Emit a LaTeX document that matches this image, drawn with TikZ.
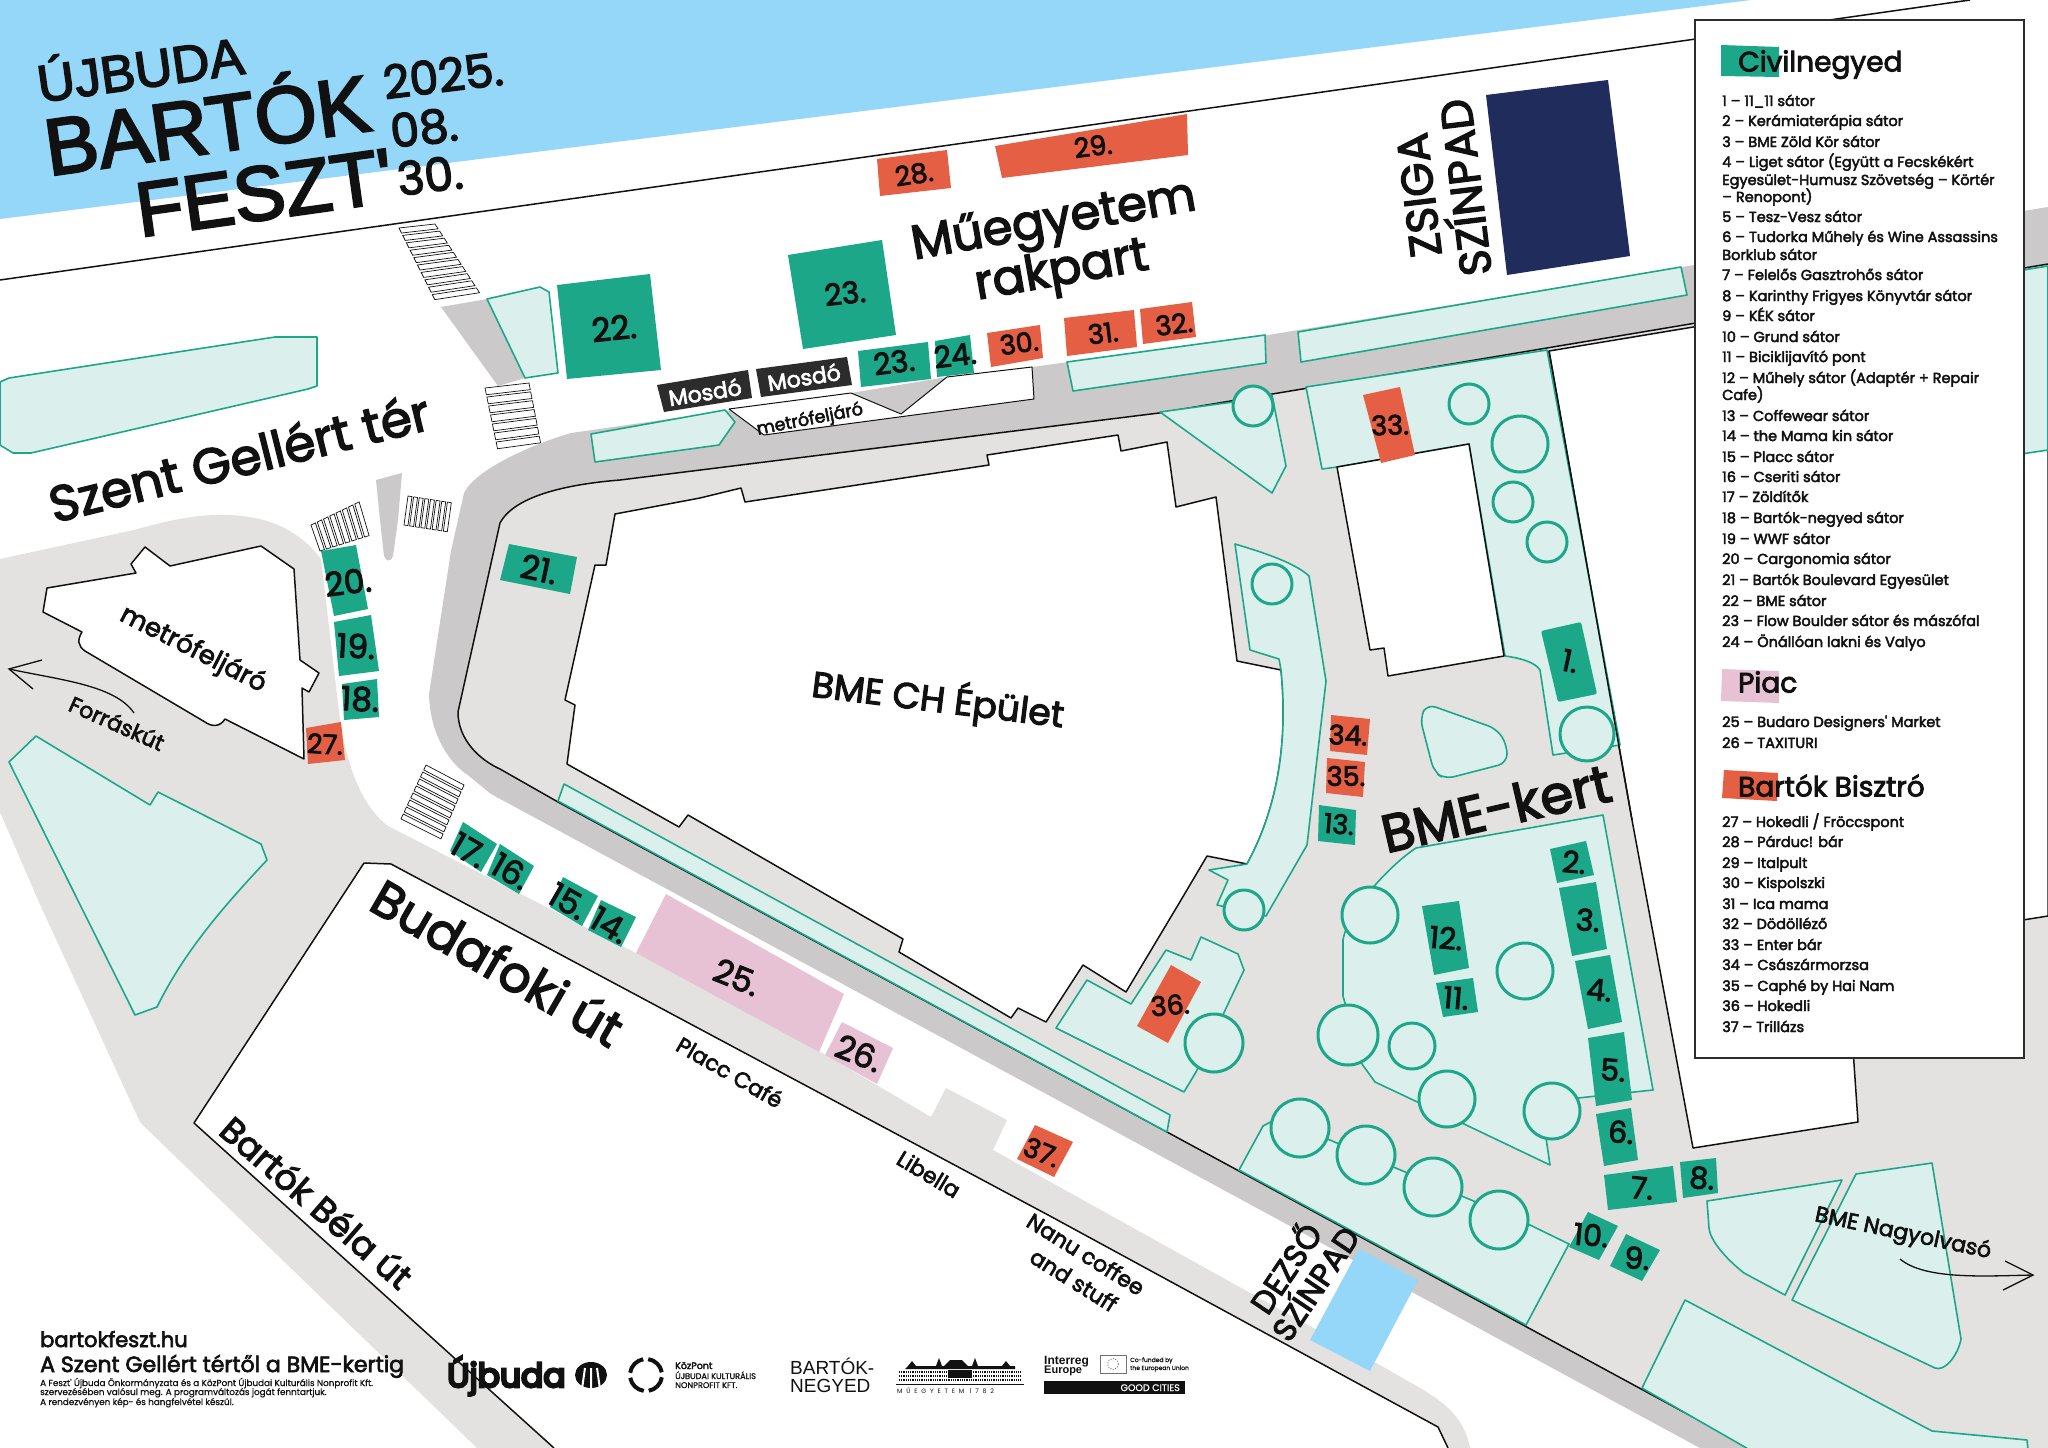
\documentclass[tikz,border=0pt]{standalone}
\usepackage{fontspec}
\usetikzlibrary{calc}
\setmainfont{Poppins}
\newfontfamily\medf[FakeBold=3]{Poppins}
\newfontfamily\heavyf[FakeBold=8]{Poppins}
\newfontfamily\regf[FakeBold=1]{Poppins}
\newfontfamily\titlef[FakeBold=3]{Liberation Sans}
\newfontfamily\plainf{Liberation Sans}
\newfontfamily\spacedf[LetterSpace=60]{Poppins}
\newcommand{\fsz}[1]{\fontsize{#1}{#1}\selectfont}
\definecolor{sky}{HTML}{94D7F8}
\definecolor{navy}{HTML}{202C5B}
\definecolor{tealbox}{HTML}{1BA788}
\definecolor{orangebox}{HTML}{E45F43}
\definecolor{pinkbox}{HTML}{E7C2D4}
\definecolor{mint}{HTML}{DBF0EC}
\definecolor{lightroad}{HTML}{E3E2E1}
\definecolor{darkroad}{HTML}{CBC9CA}
\definecolor{ink}{HTML}{111111}
\definecolor{wc}{HTML}{2D2C2C}
\tikzset{
  patch/.style={fill=mint,draw=tealbox,line width=1.6pt,line join=round},
  tree/.style={fill=mint,draw=tealbox,line width=3pt},
  edge/.style={draw=ink,line width=1.5pt,line join=round},
  cw/.style={draw=ink,line width=.7pt,fill=white},
  num/.style={inner sep=0pt,text=ink,font=\medf\fsz{30}},
  numb/.style={inner sep=0pt,text=ink,font=\medf\fsz{33}},
  nums/.style={inner sep=0pt,text=ink,font=\medf\fsz{27}},
  street/.style={inner sep=0pt,text=ink,font=\medf\fsz{48}},
  place/.style={inner sep=0pt,text=ink,font=\medf\fsz{22}},
  stage/.style={inner sep=0pt,text=ink,font=\medf\fsz{44}},
  legtxt/.style={inner sep=0pt,anchor=base west,yshift=-5pt,text=ink,font=\medf\fsz{14.5}},
  leghead/.style={inner sep=0pt,anchor=base west,yshift=-9.5pt,text=ink,font=\medf\fsz{28}},
  foot/.style={inner sep=0pt,anchor=base west,text=ink},
}
\newcommand{\cwalk}[6]{\foreach \i in {1,...,#5}{\pgfmathsetmacro\ta{(\i-1)/#5}\pgfmathsetmacro\tb{(\i-1+#6)/#5}
 \draw[cw] ($#1!\ta!#3$) -- ($#2!\ta!#4$) -- ($#2!\tb!#4$) -- ($#1!\tb!#3$) -- cycle;}}
\newcommand{\li}[2]{\node[legtxt] (leg#1) at (1722,#1) {#2};}
\begin{document}
\begin{tikzpicture}[x=1pt,y=-1pt]
\useasboundingbox (0,0) rectangle (2048,1448);
\fill[white] (0,0) rectangle (2048,1448);
\fill[sky] (0,0) -- (1751,0) -- (0,219) -- cycle;
\draw[edge] (0,280) -- (1970,0);
% left light road + Budafoki
\fill[lightroad] (0,559) -- (134,530) .. controls (170,520) and (190,516) .. (215,515) .. controls (260,514) and (295,525) .. (321,559) -- (339,712) .. controls (345,760) and (360,805) .. (388,826) -- (636,953) -- (817,1050) -- (931,1117) -- (946,1088) -- (1007,1120) -- (993,1150) -- (1387,1369) .. controls (1425,1392) and (1462,1405) .. (1470,1448) -- (477,1448) -- (150,1132) -- (140,1122) -- (38,900) -- (0,812) -- cycle;
% dark road
\fill[darkroad] (2048,207) -- (1268,335) -- (1032,367) -- (947,377) -- (851,393) -- (571,433) .. controls (530,445) and (475,470) .. (464,493) -- (451,551) -- (429,694) .. controls (430,730) and (445,760) .. (469,776) -- (491,794) -- (1050,1096) -- (1700,1448) -- (2048,1448) -- (2048,260) -- cycle;
% campus
\fill[lightroad] (2048,264) -- (1159,413) -- (620,480) .. controls (570,484) and (515,495) .. (500,523) -- (458,712) .. controls (458,740) and (480,760) .. (500,769) -- (558,802) -- (1167,1132) -- (1750,1448) -- (2048,1448) -- cycle;
\draw[edge] (2048,264) -- (1159,413) -- (620,480) .. controls (570,484) and (515,495) .. (500,523) -- (458,712) .. controls (458,740) and (480,760) .. (500,769) -- (558,802) -- (1167,1132) -- (1750,1448);
% white south block
\filldraw[fill=white,edge] (554,1448) -- (194,1123) -- (364,863) -- (391,864) -- (1050,1216) -- (1438,1427) -- (1448,1448);
% metro building
\filldraw[fill=white,edge] (47,588) -- (136,573) -- (131,564) -- (145,547) -- (170,566) -- (261,546) -- (294,569) -- (300,660) -- (319,673) -- (309,692) -- (302,688) -- (304,759) -- (225,719) .. controls (220,727) and (212,727) .. (205,722) -- (85,651) .. controls (78,646) and (77,640) .. (82,632) -- (43,612) -- cycle;
% island wedge
\fill[darkroad] (376,480) -- (402,473) -- (398,520) -- (393,556) .. controls (391,562) and (386,562) .. (384,556) -- (380,520) -- cycle;
\fill[darkroad] (441,307) -- (487,299) -- (525,378) -- (498,386) -- cycle;
% crossings
\cwalk{(399,228)}{(435,224)}{(436,302)}{(481,295)}{10}{.68}
\cwalk{(485,388)}{(529,383)}{(498,451)}{(541,445)}{7}{.75}
\cwalk{(311,525)}{(320,551)}{(361,501)}{(371,535)}{8}{.7}
\cwalk{(408,496)}{(404,525)}{(453,503)}{(449,532)}{8}{.7}
\cwalk{(426,765)}{(464,785)}{(400,821)}{(440,841)}{8}{.7}
% patches top left
\filldraw[patch] (0,382) -- (9,378) -- (275,337) -- (317,337) -- (317,386) -- (308,389) -- (31,453) -- (13,453) -- (0,445) -- cycle;
\filldraw[patch] (487,299) -- (540,287) -- (549,292) -- (558,373) -- (525,378) -- cycle;
\filldraw[patch] (591,434) -- (725,410) -- (735,422) -- (719,445) -- (595,462) -- cycle;
\filldraw[patch] (1067,362) -- (1265,335) -- (1266,363) -- (1073,391) -- cycle;
\filldraw[patch] (1298,332) -- (1681,267) -- (1687,295) -- (1301,362) -- cycle;
\filldraw[patch] (36,736) -- (150,805) -- (158,792) -- (261,844) -- (267,860) .. controls (225,905) and (185,950) .. (157,1007) -- (135,1015) -- (9,762) -- cycle;
% right-hand white building
\filldraw[fill=white,edge] (1549,351) -- (2048,268) -- (2048,916) -- (1846,948) -- (1858,1122) -- (1693,1148) -- (1632,820) -- cycle;
\filldraw[patch] (1900,290) -- (2048,266) -- (2048,450) -- (1900,472) -- cycle;
% patch with 33
\filldraw[patch] (1306,387) -- (1547,350) -- (1620,745) -- (1553,755) -- (1540,670) .. controls (1535,662) and (1520,658) .. (1505,656) -- (1469,444) -- (1337,467) -- (1322,469) -- cycle;
\draw[edge] (1549,351) -- (1632,820);
\filldraw[fill=white,edge] (1337,467) -- (1469,444) -- (1504,656) -- (1388,676) -- (1384,648) -- (1370,650) -- cycle;
% main building
\filldraw[fill=white,edge] (615,514) -- (700,498) -- (741,488) -- (745,502) -- (989,465) -- (987,455) -- (1118,435) -- (1121,451) -- (1167,442) -- (1176,507) -- (1216,497) -- (1237,661) -- (1281,670) .. controls (1287,730) and (1282,800) .. (1247,864) -- (1207,856) -- (1181,900) -- (1126,992) -- (1083,965) -- (1046,1022) -- (1018,1008) -- (1011,1018) -- (899,952) -- (903,939) -- (688,815) -- (679,827) -- (567,764) -- (575,705) -- (565,700) -- (595,565) -- (606,565) -- cycle;
% campus patches
\filldraw[patch] (1160,412) -- (1233,402) -- (1272,395) -- (1286,466) -- (1272,493) -- cycle;
\filldraw[patch] (1235,544) .. controls (1265,553) and (1295,563) .. (1309,576) -- (1326,681) -- (1307,845) -- (1266,916) -- (1217,905) -- (1228,880) -- (1209,870) -- (1247,864) .. controls (1282,800) and (1287,730) .. (1281,670) -- (1279,659) -- (1250,650) -- cycle;
\filldraw[patch,rounded corners=9pt] (1427,704) -- (1497,729) -- (1507,745) -- (1507,763) -- (1445,779) -- (1434,772) -- (1420,718) -- cycle;
\filldraw[patch] (1416,848) -- (1603,815) -- (1653,1090) -- (1578,1098) -- (1546,1138) -- (1550,1165) -- (1464,1124) -- (1375,1082) -- (1362,1064) -- (1343,996) -- (1343,940) .. controls (1348,910) and (1390,865) .. (1416,848) -- cycle;
\filldraw[patch] (1201,937) -- (1238,954) -- (1244,970) -- (1196,1072) -- (1184,1092) -- (1056,1028) -- (1087,980) -- (1131,1004) -- (1166,950) -- (1191,960) -- cycle;
\filldraw[patch] (564,784) -- (1170,1115) -- (1167,1132) -- (558,801) -- cycle;
\filldraw[patch] (1239,1170) -- (1263,1126) -- (1278,1118) -- (1530,1225) -- (1569,1244) -- (1526,1325) -- cycle;
\filldraw[patch] (1707,1201) -- (1842,1180) -- (1785,1295) -- (1744,1273) .. controls (1725,1258) and (1710,1240) .. (1709,1228) -- cycle;
\filldraw[patch] (1856,1174) -- (1932,1163) -- (1961,1339) .. controls (1958,1355) and (1945,1372) .. (1935,1368) -- (1792,1300) -- cycle;
\filldraw[patch] (1685,1300) -- (1932,1431) -- (2027,1440) -- (2028,1450) -- (1750,1450) -- (1642,1388) -- cycle;
% trees
\foreach \tx/\ty/\tr in {1253/406/20,1469/404/20,1520/444/28,1513/502/20,1547/542/20,1587/734/27,1272/584/20,1244/910/20,1370/915/28,1525/971/28,1348/1035/30,1412/1046/23,1447/1099/28,1552/1111/28,1300/1128/29,1366/1155/29,1433/1187/29,1499/1220/29,1214/1043/29}{\filldraw[tree] (\tx,\ty) circle[radius=\tr pt];}
% stages
\fill[navy] (1486,95) -- (1608,80) -- (1630,256) -- (1507,275) -- cycle;
\fill[sky] (1359,1249) -- (1418,1280) -- (1370,1371) -- (1310,1340) -- cycle;
% metro entrance
\filldraw[fill=white,edge,line width=1pt] (729,409) -- (851,393) -- (901,414) -- (947,377) -- (1032,367) -- (1034,399) -- (764,435) -- cycle;
\node[inner sep=0pt,text=ink,font=\medf\fsz{17.5},rotate=11] (metro2) at (810,420) {metrófeljáró};
% wc
\fill[wc] (657,385) -- (748,370) -- (752,398) -- (664,412) -- cycle;
\fill[wc] (756,369) -- (847,357) -- (852,385) -- (761,397) -- cycle;
\node[inner sep=0pt,text=white,font=\medf\fsz{22},rotate=9] (mos1) at (705,392) {Mosdó};
\node[inner sep=0pt,text=white,font=\medf\fsz{22},rotate=9] (mos2) at (804,377) {Mosdó};
% tents teal
\fill[tealbox] (557,285) -- (650,274) -- (661,370) -- (567,379) -- cycle;
\fill[tealbox] (788,255) -- (882,240) -- (896,335) -- (803,349) -- cycle;
\fill[tealbox] (858,351) -- (928,342) -- (931,379) -- (861,387) -- cycle;
\fill[tealbox] (935,341) -- (970,335) -- (974,373) -- (937,377) -- cycle;
\fill[tealbox] (1550,849) -- (1586,841) -- (1594,875) -- (1557,883) -- cycle;
\fill[tealbox] (1559,888) -- (1596,882) -- (1607,949) -- (1572,956) -- cycle;
\fill[tealbox] (1575,961) -- (1610,955) -- (1622,1022) -- (1588,1029) -- cycle;
\fill[tealbox] (1588,1038) -- (1624,1032) -- (1632,1100) -- (1596,1106) -- cycle;
\fill[tealbox] (1596,1114) -- (1631,1108) -- (1638,1160) -- (1604,1166) -- cycle;
\fill[tealbox] (1604,1175) -- (1673,1166) -- (1677,1202) -- (1608,1210) -- cycle;
\fill[tealbox] (1680,1162) -- (1716,1158) -- (1718,1193) -- (1683,1198) -- cycle;
\fill[tealbox] (1588,1212) -- (1618,1226) -- (1599,1260) -- (1569,1247) -- cycle;
\fill[tealbox] (1626,1234) -- (1660,1250) -- (1642,1281) -- (1610,1266) -- cycle;
\fill[tealbox] (1422,906) -- (1459,901) -- (1469,968) -- (1434,975) -- cycle;
\fill[tealbox] (1436,983) -- (1473,978) -- (1478,1012) -- (1443,1017) -- cycle;
\fill[tealbox,rounded corners=2pt] (1541,631) -- (1581,622) -- (1597,694) -- (1558,702) -- cycle;
\fill[tealbox] (1319,805) -- (1356,810) -- (1355,845) -- (1318,841) -- cycle;
\fill[tealbox] (321,551) -- (356,545) -- (368,609) -- (334,616) -- cycle;
\fill[tealbox] (334,622) -- (371,615) -- (379,671) -- (339,676) -- cycle;
\fill[tealbox] (342,684) -- (377,679) -- (379,717) -- (344,720) -- cycle;
\fill[tealbox] (509,544) -- (577,557) -- (570,594) -- (500,580) -- cycle;
\fill[tealbox] (463,822) -- (497,844) -- (481,872) -- (450,851) -- cycle;
\fill[tealbox] (500,844) -- (534,866) -- (519,894) -- (487,875) -- cycle;
\fill[tealbox] (563,877) -- (598,896) -- (582,926) -- (550,907) -- cycle;
\fill[tealbox] (601,900) -- (636,917) -- (621,947) -- (588,930) -- cycle;
% tents orange
\fill[orangebox] (877,159) -- (947,150) -- (951,188) -- (880,196) -- cycle;
\fill[orangebox] (995,146) -- (1187,114) -- (1188,155) -- (1002,178) -- cycle;
\fill[orangebox] (987,333) -- (1040,325) -- (1043,358) -- (991,367) -- cycle;
\fill[orangebox] (1064,318) -- (1134,310) -- (1137,347) -- (1067,356) -- cycle;
\fill[orangebox] (1140,309) -- (1192,302) -- (1196,337) -- (1143,344) -- cycle;
\fill[orangebox] (1363,395) -- (1400,387) -- (1415,455) -- (1381,463) -- cycle;
\fill[orangebox] (1331,715) -- (1370,719) -- (1367,755) -- (1330,751) -- cycle;
\fill[orangebox] (1327,758) -- (1365,762) -- (1363,797) -- (1326,793) -- cycle;
\fill[orangebox] (1171,965) -- (1201,982) -- (1168,1043) -- (1137,1026) -- cycle;
\fill[orangebox] (1035,1125) -- (1073,1142) -- (1054,1177) -- (1017,1159) -- cycle;
\fill[orangebox] (306,728) -- (341,722) -- (345,760) -- (308,764) -- cycle;
% tents pink
\fill[pinkbox] (666,894) -- (844,994) -- (819,1052) -- (636,953) -- cycle;
\fill[pinkbox] (842,1022) -- (893,1048) -- (877,1084) -- (825,1055) -- cycle;
% tent numbers
\node[num,rotate=-12] (n1) at (1570,661) {1.};
\node[num,rotate=-5] (n2) at (1574,862) {2.};
\node[num,rotate=-5] (n3) at (1588,920) {3.};
\node[num,rotate=-5] (n4) at (1599,990) {4.};
\node[num,rotate=-5] (n5) at (1613,1070) {5.};
\node[num,rotate=-5] (n6) at (1621,1132) {6.};
\node[num,rotate=-5] (n7) at (1642,1188) {7.};
\node[num,rotate=-5] (n8) at (1702,1178) {8.};
\node[num,rotate=-5] (n9) at (1637,1258) {9.};
\node[num,rotate=-5] (n10) at (1591,1235) {10.};
\node[num,rotate=-5] (n11) at (1456,998) {11.};
\node[num,rotate=-5] (n12) at (1446,938) {12.};
\node[nums,rotate=-5] (n13) at (1339,824) {13.};
\node[numb,rotate=-30] (n14) at (610,925) {14.};
\node[numb,rotate=-30] (n15) at (568,901) {15.};
\node[numb,rotate=-30] (n16) at (511,871) {16.};
\node[numb,rotate=-30] (n17) at (469,850) {17.};
\node[numb,rotate=-3] (n18) at (360,699) {18.};
\node[numb,rotate=-3] (n19) at (356,646) {19.};
\node[numb,rotate=7] (n20) at (348,582) {20.};
\node[numb,rotate=-12] (n21) at (539,569) {21.};
\node[numb,rotate=6] (n22) at (614,328) {22.};
\node[num,rotate=6] (n23) at (845,293) {23.};
\node[num,rotate=7] (n23b) at (894,362) {23.};
\node[num,rotate=7] (n24) at (955,355) {24.};
\node[numb,rotate=-22] (n25) at (737,977) {25.};
\node[numb,rotate=-22] (n26) at (859,1053) {26.};
\node[nums,rotate=-3] (n27) at (325,744) {27.};
\node[nums,rotate=9] (n28) at (914,174) {28.};
\node[nums,rotate=7] (n29) at (1093,146) {29.};
\node[nums,rotate=8] (n30) at (1019,343) {30.};
\node[nums,rotate=7] (n31) at (1103,333) {31.};
\node[nums,rotate=7] (n32) at (1174,324) {32.};
\node[nums,rotate=2] (n33) at (1390,425) {33.};
\node[nums,rotate=-2] (n34) at (1348,735) {34.};
\node[nums,rotate=0] (n35) at (1346,776) {35.};
\node[nums,rotate=5] (n36) at (1170,1005) {36.};
\node[nums,rotate=-22] (n37) at (1042,1152) {37.};
% street labels
\node[street,rotate=14,font=\medf\fsz{50}] (gellert) at (239,457) {Szent Gellért tér};
\node[street,rotate=10] (rak1) at (1054,223) {Műegyetem};
\node[street,rotate=10] (rak2) at (1062,273) {rakpart};
\node[street,rotate=13,font=\medf\fsz{53}] (kert) at (1496,808) {BME-kert};
\node[street,rotate=-30,font=\medf\fsz{50}] (buda) at (498,962) {Budafoki út};
\node[inner sep=0pt,text=ink,font=\medf\fsz{35},rotate=-41] (bela) at (317,1202) {Bartók Béla út};
\node[inner sep=0pt,text=ink,font=\medf\fsz{36},rotate=-7] (bme) at (938,700) {BME CH Épület};
\node[inner sep=0pt,text=ink,font=\medf\fsz{26},rotate=-27] (metro1) at (193,650) {metrófeljáró};
\node[place,rotate=-24] (forras) at (117,723) {Forráskút};
\node[place,rotate=-30] (placc) at (730,1072) {Placc Café};
\node[place,rotate=-31] (libella) at (929,1174) {Libella};
\node[place,rotate=-32] (nanu1) at (1086,1254) {Nanu coffee};
\node[place,rotate=-32] (nanu2) at (1074,1280) {and stuff};
\node[place,rotate=-12] (olvaso) at (1903,1234) {BME Nagyolvasó};
% arrows
\coordinate (fa) at (134,713); \coordinate (fb) at (9,669);
\coordinate (fu) at (42,660); \coordinate (fd) at (33,689);
\draw[ink,line width=1.3pt] (fa) .. controls (115,685) and (60,680) .. (fb);
\draw[ink,line width=1.3pt] (fu) -- (fb) -- (fd);
\coordinate (oa) at (1900,1259); \coordinate (ob) at (2033,1275);
\coordinate (ou) at (2005,1261); \coordinate (od) at (2003,1290);
\draw[ink,line width=1.3pt] (oa) .. controls (1925,1280) and (1985,1276) .. (ob);
\draw[ink,line width=1.3pt] (ou) -- (ob) -- (od);
% stage labels
\node[stage,rotate=97] (zsiga) at (1419,195) {ZSIGA};
\node[stage,rotate=97] (szin1) at (1461,188) {SZÍNPAD};
\node[inner sep=0pt,text=ink,font=\medf\fsz{32},rotate=56] (dezso) at (1284,1267) {DEZSŐ};
\node[inner sep=0pt,text=ink,font=\medf\fsz{32},rotate=56] (szin2) at (1313,1282) {SZÍNPAD};
% title
\node[inner sep=0pt,anchor=base,text=ink,font=\titlef\fsz{52},rotate=8] (t1) at (143,88) {ÚJBUDA};
\node[inner sep=0pt,anchor=base,text=ink,font=\titlef\fsz{80},rotate=8] (t2) at (211,153) {BARTÓK};
\node[inner sep=0pt,anchor=base,text=ink,font=\titlef\fsz{77},rotate=8] (t3) at (268,219) {FESZT'};
\node[inner sep=0pt,anchor=base,text=ink,font=\medf\fsz{46},rotate=7] (d1) at (445,92) {2025.};
\node[inner sep=0pt,anchor=base,text=ink,font=\medf\fsz{46},rotate=7] (d2) at (426,144) {08.};
\node[inner sep=0pt,anchor=base,text=ink,font=\medf\fsz{46},rotate=7] (d3) at (432,192) {30.};
% legend
\filldraw[fill=white,draw=wc,line width=2pt] (1695,20) rectangle (2024,1058);
\fill[tealbox] (1721,45) -- (1779,47) -- (1779,77) -- (1721,76) -- cycle;
\fill[pinkbox] (1722,669) -- (1779,671) -- (1779,703) -- (1721,701) -- cycle;
\fill[orangebox] (1724,770) -- (1778,773) -- (1777,801) -- (1722,798) -- cycle;
\node[leghead] (hc) at (1738,62) {Civilnegyed};
\node[leghead] (hp) at (1738,683) {Piac};
\node[leghead] (hb) at (1738,787) {Bartók Bisztró};
\li{101}{1 – 11\_11 sátor}
\li{121}{2 – Kerámiaterápia sátor}
\li{142}{3 – BME Zöld Kör sátor}
\li{162}{4 – Liget sátor (Együtt a Fecskékért}
\li{180}{Egyesület-Humusz Szövetség – Körtér}
\li{197}{– Renopont)}
\li{217}{5 – Tesz-Vesz sátor}
\li{237}{6 – Tudorka Műhely és Wine Assassins}
\li{255}{Borklub sátor}
\li{275}{7 – Felelős Gasztrohős sátor}
\li{296}{8 – Karinthy Frigyes Könyvtár sátor}
\li{316}{9 – KÉK sátor}
\li{337}{10 – Grund sátor}
\li{357}{11 – Biciklijavító pont}
\li{378}{12 – Műhely sátor (Adaptér + Repair}
\li{395}{Cafe)}
\li{416}{13 – Coffewear sátor}
\li{436}{14 – the Mama kin sátor}
\li{457}{15 – Placc sátor}
\li{477}{16 – Cseriti sátor}
\li{497}{17 – Zöldítők}
\li{518}{18 – Bartók-negyed sátor}
\li{539}{19 – WWF sátor}
\li{559}{20 – Cargonomia sátor}
\li{580}{21 – Bartók Boulevard Egyesület}
\li{601}{22 – BME sátor}
\li{621}{23 – Flow Boulder sátor és mászófal}
\li{642}{24 – Önállóan lakni és Valyo}
\li{722}{25 – Budaro Designers' Market}
\li{743}{26 – TAXITURI}
\li{822}{27 – Hokedli / Fröccspont}
\li{842}{28 – Párduc! bár}
\li{863}{29 – Italpult}
\li{883}{30 – Kispolszki}
\li{904}{31 – Ica mama}
\li{924}{32 – Dödölléző}
\li{945}{33 – Enter bár}
\li{965}{34 – Császármorzsa}
\li{986}{35 – Caphé by Hai Nam}
\li{1006}{36 – Hokedli}
\li{1027}{37 – Trillázs}
% footer
\node[foot,font=\medf\fsz{21}] (f1) at (40,1347) {bartokfeszt.hu};
\node[foot,font=\medf\fsz{22}] (f2) at (40,1372) {A Szent Gellért tértől a BME-kertig};
\node[foot,font=\regf\fsz{8.8}] (f3) at (40,1386) {A Feszt' Újbuda Önkormányzata és a KözPont Újbudai Kulturális Nonprofit Kft.};
\node[foot,font=\regf\fsz{8.8}] (f4) at (40,1395) {szervezésében valósul meg. A programváltozás jogát fenntartjuk.};
\node[foot,font=\regf\fsz{8.8}] (f5) at (40,1405) {A rendezvényen kép- és hangfelvétel készül.};
% logos
\node[foot,font=\heavyf\fsz{33}] (ub) at (447,1387) {Újbuda};
\fill[ink] (591,1375) ellipse[x radius=16pt,y radius=13pt];
\draw[white,line width=2pt] (591,1389) -- (591,1368) (582,1389) -- (585,1368) (600,1389) -- (597,1368);
\foreach \aa in {10,100,190,280}{\draw[ink,line width=4pt] ($(646,1375)+(\aa:16pt)$) arc[start angle=\aa,end angle=\aa+72,radius=16pt];}
\node[foot,font=\medf\fsz{9.5}] (k1) at (675,1369) {KözPont};
\node[foot,font=\regf\fsz{8.2}] (k2) at (675,1379) {ÚJBUDAI KULTURÁLIS};
\node[foot,font=\regf\fsz{8.2}] (k3) at (675,1388) {NONPROFIT KFT.};
\node[foot,font=\plainf\fsz{19}] (bn1) at (790,1374) {BARTÓK-};
\node[foot,font=\plainf\fsz{19}] (bn2) at (790,1392) {NEGYED};
% university building
\fill[ink] (905,1369) -- (1015,1369) -- (1015,1366) -- (1010,1366) -- (1006,1361) -- (1002,1366) -- (978,1366) -- (975,1358) -- (972,1366) -- (968,1366) -- (962,1360) -- (950,1360) -- (944,1366) -- (942,1366) -- (939,1358) -- (936,1366) -- (916,1366) -- (912,1361) -- (908,1366) -- cycle;
\draw[ink,line width=2pt,dash pattern=on .9pt off .9pt] (899,1372) -- (1021,1372) (899,1376) -- (1021,1376) (899,1380) -- (1021,1380);
\fill[ink] (948,1370) rectangle (972,1378);
\draw[ink,line width=.8pt] (896,1384) -- (1024,1384);
\node[foot,font=\spacedf\fsz{6.3}] (mue) at (897,1393) {MŰEGYETEM 1782};
\node[foot,font=\plainf\bfseries\fsz{12}] (ir1) at (1044,1364) {Interreg};
\node[foot,font=\plainf\bfseries\fsz{11}] (ir2) at (1044,1373) {Europe};
\draw[ink!60,line width=.8pt] (1100,1355) rectangle (1126,1373);
\draw[ink!60,line width=.8pt,dash pattern=on 1pt off 1.5pt] (1113,1364) circle[radius=5.5pt];
\node[foot,font=\regf\fsz{6}] (eu1) at (1130,1362) {Co-funded by};
\node[foot,font=\regf\fsz{6}] (eu2) at (1130,1370) {the European Union};
\fill[ink] (1044,1381) rectangle (1185,1394);
\node[foot,anchor=base east,text=white,font=\regf\fsz{9.5}] (gc) at (1180,1391) {GOOD CITIES};
\end{tikzpicture}
\end{document}
